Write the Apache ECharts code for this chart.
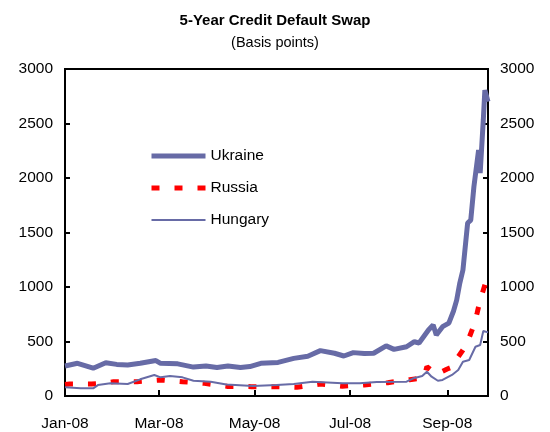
<!DOCTYPE html>
<html>
<head>
<meta charset="utf-8">
<script src="https://cdn.jsdelivr.net/npm/echarts@6/dist/echarts.min.js"></script>
<style>
  html, body { margin: 0; padding: 0; background: #fff; }
  #chart { width: 550px; height: 432px; }
</style>
</head>
<body>
<div id="chart"></div>
<script>
// 5-year CDS spreads, basis points
const ukraineDates = ['01-01', '01-09', '01-19', '01-27', '02-03', '02-10', '02-18', '02-28', '03-02', '03-13',
  '03-23', '03-31', '04-07', '04-14', '04-22', '04-28', '05-05', '05-16', '05-26', '06-04',
  '06-12', '06-21', '06-27', '07-03', '07-10', '07-16', '07-24', '07-29', '08-06', '08-11',
  '08-14', '08-20', '08-23', '08-25', '08-29', '09-02', '09-05', '09-07', '09-09', '09-11',
  '09-14', '09-16', '09-18', '09-21', '09-22', '09-23', '09-24', '09-25', '09-27'];
const ukraineValues = [275, 300, 255, 305, 290, 285, 300, 325, 300, 295,
  265, 275, 262, 276, 262, 270, 300, 308, 345, 365,
  416, 392, 367, 398, 390, 392, 460, 428, 452, 498,
  486, 605, 651, 560, 636, 669, 780, 880, 1036, 1156,
  1587, 1614, 1920, 2257, 2045, 2027, 2532, 2807, 2700];

const russiaDates = ['01-01', '01-04', '01-18', '01-25', '02-01', '02-16', '03-02', '03-16', '03-30', '04-14',
  '04-29', '05-13', '05-28', '06-12', '06-26', '07-10', '07-25', '08-08', '08-17', '08-19',
  '08-25', '09-01', '09-05', '09-08', '09-11', '09-14', '09-18', '09-20', '09-22', '09-26', '09-27'];
const russiaValues = [105, 110, 110, 115, 131, 131, 147, 131, 116, 88,
  86, 85, 80, 110, 90, 101, 122, 150, 165, 269,
  200, 248, 270, 360, 422, 498, 651, 758, 880, 1064, 1070];

const hungaryDates = ['01-01', '01-11', '01-19', '01-22', '01-30', '02-10', '02-18', '02-27', '03-02', '03-08',
  '03-16', '03-23', '04-03', '04-13', '04-30', '05-15', '05-26', '06-07', '06-26', '07-07',
  '07-18', '08-06', '08-10', '08-16', '08-19', '08-22', '08-26', '08-29', '09-04', '09-08',
  '09-11', '09-15', '09-19', '09-22', '09-24', '09-27'];
const hungaryValues = [80, 72, 70, 100, 116, 110, 153, 193, 171, 183,
  171, 140, 131, 105, 92, 101, 110, 131, 116, 116,
  128, 131, 160, 183, 223, 177, 140, 147, 193, 238,
  315, 330, 452, 468, 596, 584];

const tickDates = ['01-01', '03-01', '05-01', '07-01', '09-01'];
const tickLabels = ['Jan-08', 'Mar-08', 'May-08', 'Jul-08', 'Sep-08'];

// 把日期换成2008年的天数
function dayOf(md) {
  const [m, d] = md.split('-').map(Number);
  return (Date.UTC(2008, m - 1, d) - Date.UTC(2008, 0, 1)) / 864e5;
}
function pairs(dates, values) {
  return dates.map((d, i) => [dayOf(d), values[i]]);
}

const tickDays = tickDates.map(dayOf);
const lineBlue = '#676BA6';
const font = 'Liberation Sans, Arial, sans-serif';

const yAxisBase = {
  type: 'value',
  min: 0,
  max: 3000,
  interval: 500,
  axisLine: { show: true, lineStyle: { color: '#000', width: 2 } },
  axisTick: { show: true, inside: true, length: 5, lineStyle: { color: '#000', width: 2 } },
  axisLabel: {
    color: '#000',
    fontSize: 15.5,
    fontFamily: font,
    margin: 12,
    formatter: (v) => String(v),
  },
  splitLine: { show: false },
};

const chart = echarts.init(document.getElementById('chart'));
chart.setOption({
  animation: false,
  title: {
    text: '5-Year Credit Default Swap',
    subtext: '(Basis points)',
    left: 'center',
    top: 8,
    itemGap: 7,
    textStyle: { color: '#000', fontSize: 15, fontWeight: 'bold', fontFamily: font },
    subtextStyle: { color: '#000', fontSize: 14.5, fontFamily: font },
  },
  grid: {
    left: 65,
    right: 62,
    top: 69,
    bottom: 36,
    show: true,
    borderColor: '#000',
    borderWidth: 2,
  },
  legend: {
    orient: 'vertical',
    left: 149,
    top: 148,
    padding: 0,
    itemWidth: 54,
    itemHeight: 15,
    itemGap: 16,
    itemStyle: { opacity: 0 },
    textStyle: { color: '#000', fontSize: 15.5, fontFamily: font },
    data: [
      { name: 'Ukraine', lineStyle: { width: 5 } },
      { name: 'Russia', lineStyle: { width: 5 } },
      { name: 'Hungary', lineStyle: { width: 2 } },
    ],
  },
  xAxis: {
    type: 'value',
    min: 0,
    max: dayOf('09-27'),
    axisLine: { show: true, lineStyle: { color: '#000', width: 2 } },
    axisTick: {
      show: true,
      inside: true,
      length: 6,
      customValues: tickDays,
      lineStyle: { color: '#000', width: 2 },
    },
    axisLabel: {
      color: '#000',
      fontSize: 15.5,
      fontFamily: font,
      margin: 20,
      customValues: tickDays,
      formatter: (v) => tickLabels[tickDays.indexOf(v)],
    },
    splitLine: { show: false },
  },
  yAxis: [
    Object.assign({}, yAxisBase, { position: 'left' }),
    Object.assign({}, yAxisBase, { position: 'right' }),
  ],
  series: [
    {
      name: 'Ukraine',
      type: 'line',
      showSymbol: false,
      symbol: 'none',
      data: pairs(ukraineDates, ukraineValues),
      lineStyle: { color: lineBlue, width: 5 },
      itemStyle: { color: lineBlue },
    },
    {
      name: 'Russia',
      type: 'line',
      showSymbol: false,
      symbol: 'none',
      data: pairs(russiaDates, russiaValues),
      lineStyle: { color: '#FF0000', width: 5, type: [8, 15] },
      itemStyle: { color: '#FF0000' },
    },
    {
      name: 'Hungary',
      type: 'line',
      showSymbol: false,
      symbol: 'none',
      data: pairs(hungaryDates, hungaryValues),
      lineStyle: { color: lineBlue, width: 2 },
      itemStyle: { color: lineBlue },
    },
  ],
});

window.addEventListener('resize', () => {
  chart.resize();
});
</script>
</body>
</html>
